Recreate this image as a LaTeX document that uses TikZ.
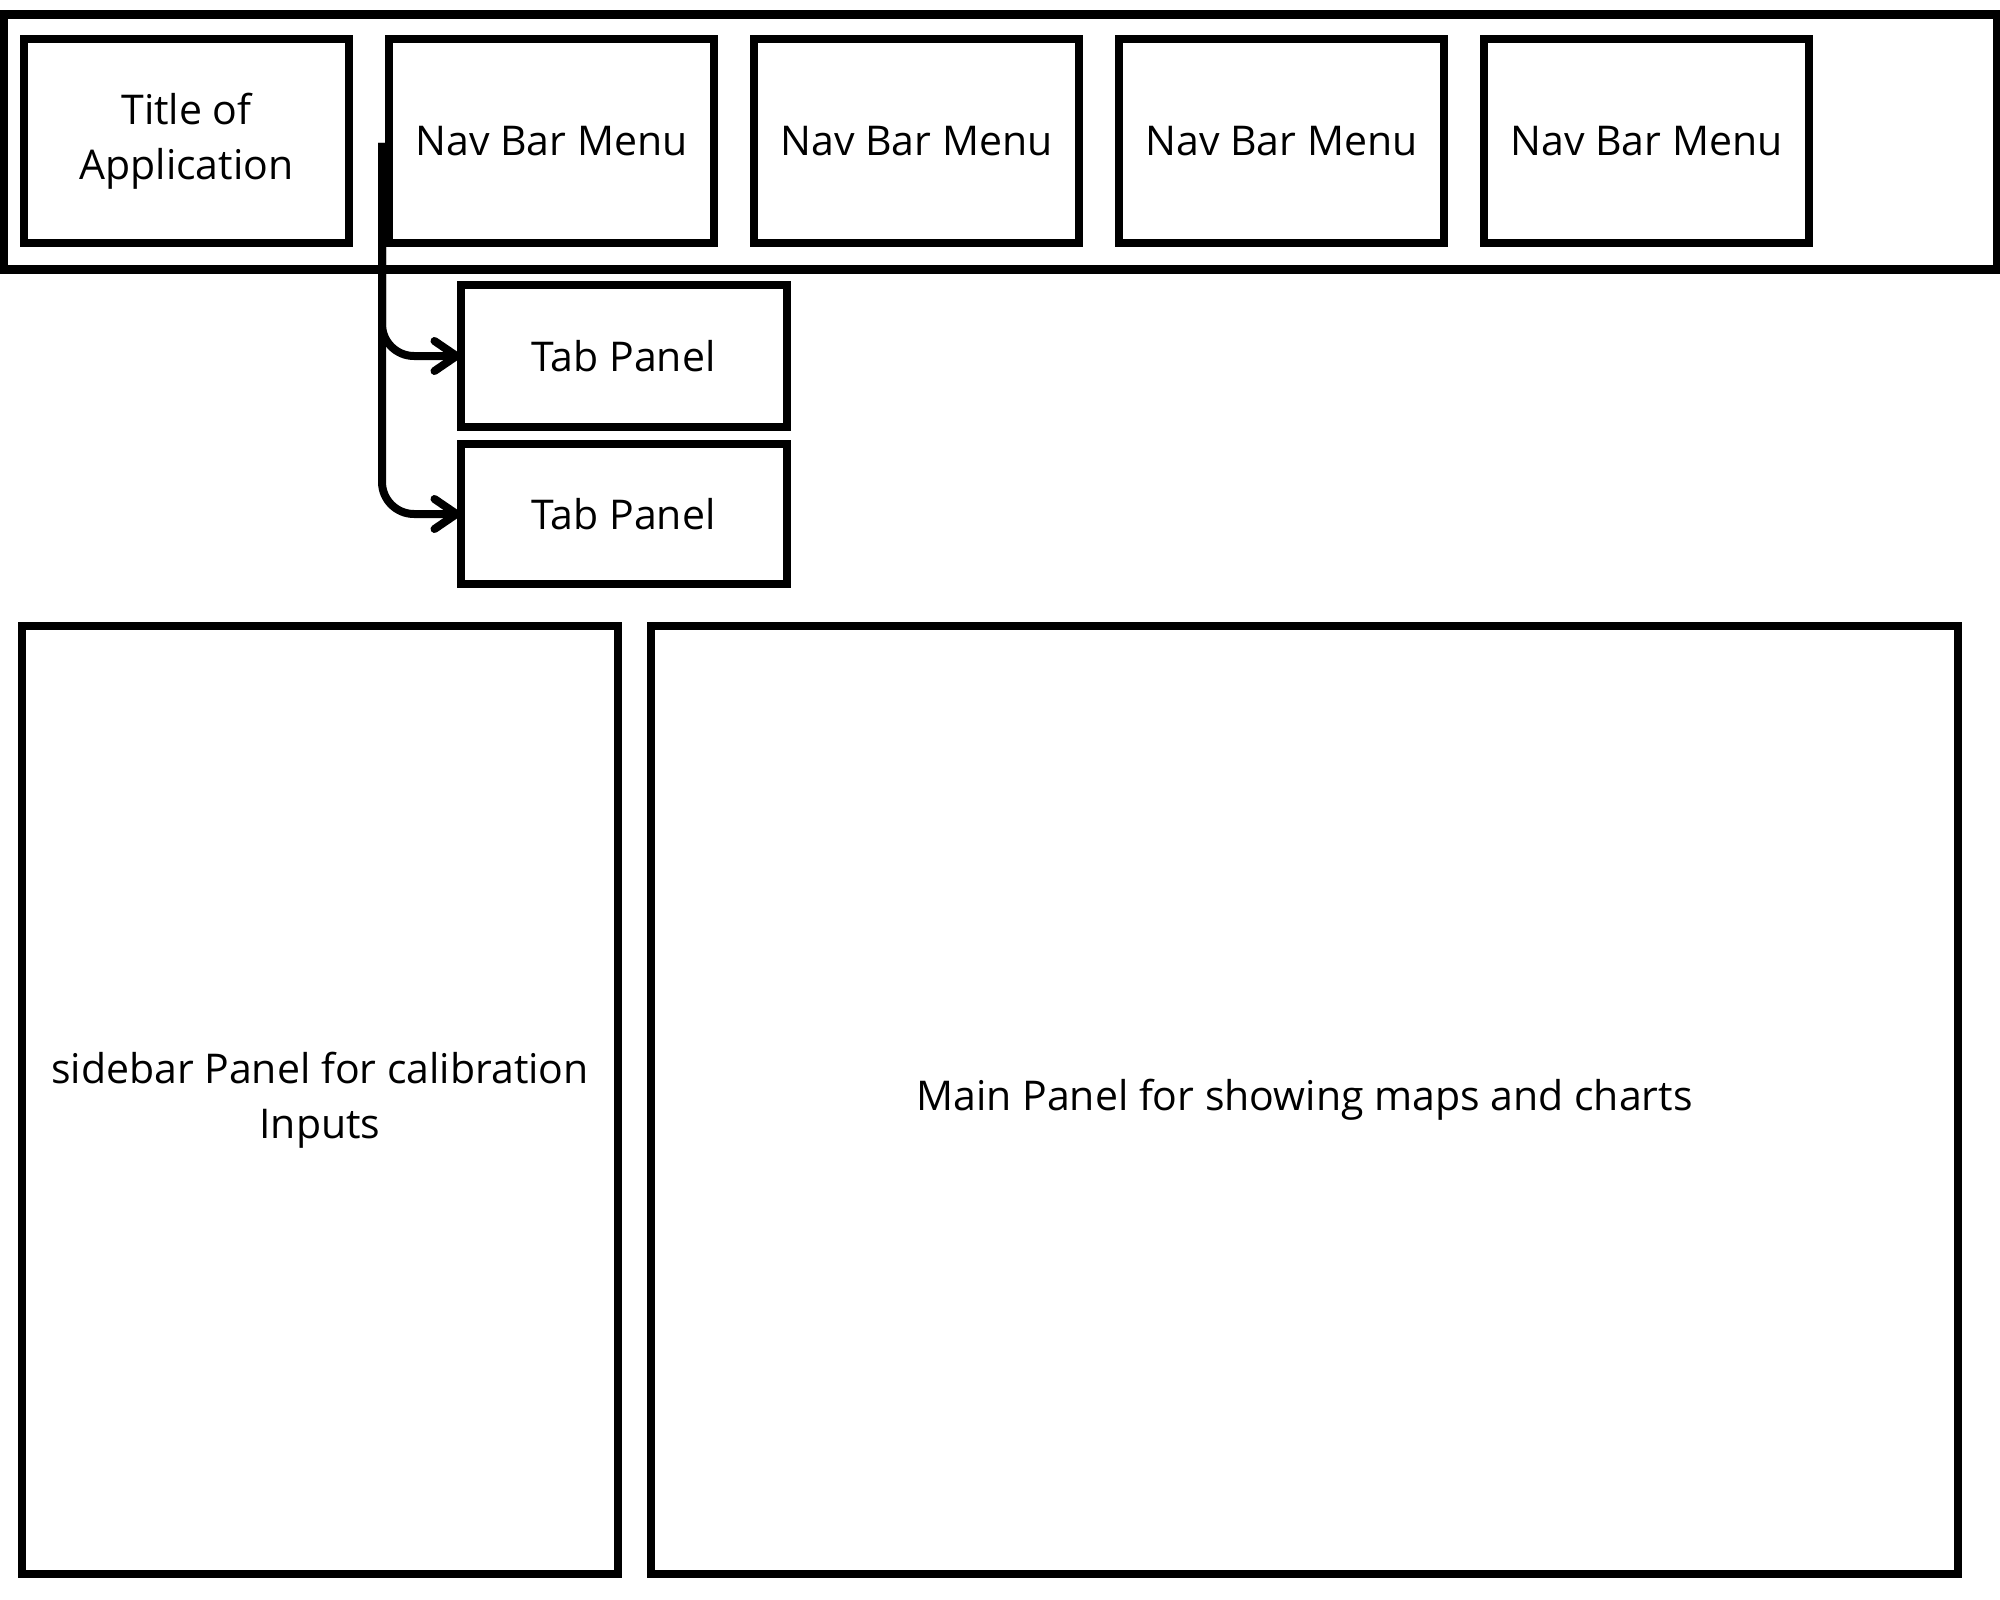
\documentclass[tikz,border=0pt]{standalone}
\usepackage{fontspec}
\setmainfont{Open Sans}
\usetikzlibrary{arrows.meta}
\begin{document}
\begin{tikzpicture}[x=1pt,y=-1pt,
  box/.style={draw=black, line width=8pt, rectangle, inner sep=0pt, outer sep=0pt, align=center,
    font=\fontsize{41}{55}\selectfont},
  navbox/.style={box, minimum width=325pt, minimum height=203pt},
  conn/.style={draw=black, line width=8pt, rounded corners=32pt,
    -{Straight Barb[length=22pt,width=30pt,round]}}]
\useasboundingbox (0,0) rectangle (2000,1600);
\node[box, line width=9pt, minimum width=1994pt, minimum height=255pt] (bar) at (1000,142) {};
\node[navbox] (title) at (186.5,141) {Title of\\Application};
\node[navbox] (nav1) at (551.5,141) {Nav Bar Menu};
\node[navbox] (nav2) at (916.5,141) {Nav Bar Menu};
\node[navbox] (nav3) at (1281.5,141) {Nav Bar Menu};
\node[navbox] (nav4) at (1646.5,141) {Nav Bar Menu};
\node[box, minimum width=326pt, minimum height=142pt] (tab1) at (623.5,356) {Tab Panel};
\node[box, minimum width=326pt, minimum height=140pt] (tab2) at (623.5,514) {Tab Panel};
\node[box, minimum width=596pt, minimum height=948pt] (side) at (320,1100) {sidebar Panel for calibration\\Inputs};
\node[box, minimum width=1307pt, minimum height=948pt] (main) at (1304.5,1100) {Main Panel for showing maps and charts};
\coordinate (src) at (382,143);
\draw[conn] (src) |- (tab1.west);
\draw[conn] (src) |- (tab2.west);
\end{tikzpicture}
\end{document}
